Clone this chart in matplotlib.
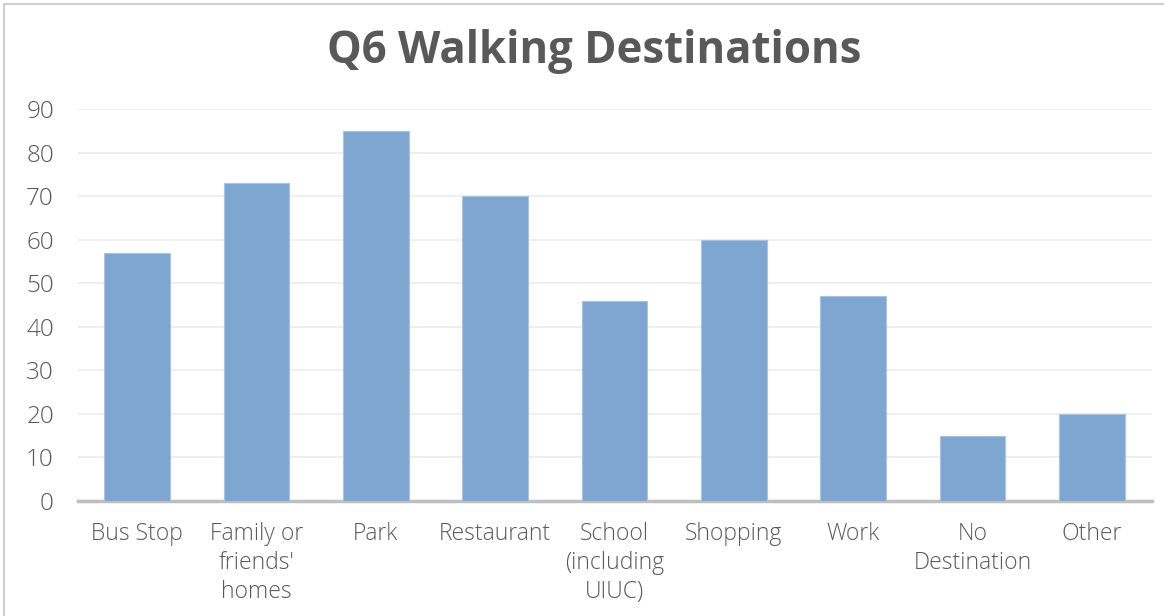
import matplotlib
matplotlib.use("Agg")
import matplotlib.pyplot as plt
from matplotlib.patches import Rectangle

categories = ["Bus Stop", "Family or\nfriends'\nhomes", "Park", "Restaurant",
              "School\n(including\nUIUC)", "Shopping", "Work", "No\nDestination", "Other"]
values = [57, 73, 85, 70, 46, 60, 47, 15, 20]
yticks = [0, 10, 20, 30, 40, 50, 60, 70, 80, 90]
title = "Q6 Walking Destinations"

plt.rcParams['font.family'] = ['Open Sans', 'DejaVu Sans']

W, H = 1164, 616
fig = plt.figure(figsize=(W / 100, H / 100), dpi=100)
fig.patch.set_facecolor("white")

# chart border (partially cropped)
fig.add_artist(Rectangle((4 / W, -0.1), 1.2, (H - 4) / H + 0.1, transform=fig.transFigure,
                         fill=False, edgecolor="#d0d0d0", linewidth=1.5))

left, right = 77.5, 1151.5
top, bottom = 109, 501
ax = fig.add_axes([left / W, 1 - bottom / H, (right - left) / W, (bottom - top) / H])

x = list(range(len(categories)))
ax.bar(x, values, width=0.55, color="#7fa6d1", edgecolor="#a9c3e3", linewidth=0.8, zorder=3)
ax.set_xlim(-0.5, len(categories) - 0.5)
ax.set_ylim(0, 90)
ax.set_yticks(yticks)
ax.set_yticklabels([str(v) for v in yticks])
ax.set_xticks(x)
ax.set_xticklabels(categories, linespacing=1.27)

ax.grid(axis="y", color="#ececec", linewidth=1.2, zorder=0)
ax.set_axisbelow(True)
for s in ["top", "right", "left"]:
    ax.spines[s].set_visible(False)
ax.spines["bottom"].set_color("#bfbfbf")
ax.spines["bottom"].set_linewidth(2.5)
ax.tick_params(axis="x", length=0, labelsize=16.5, labelcolor="#595959", pad=15)
ax.tick_params(axis="y", length=0, labelsize=17.5, labelcolor="#595959", pad=17)
for lbl in ax.get_xticklabels() + ax.get_yticklabels():
    lbl.set_fontweight("light")
for lbl in ax.get_yticklabels():
    lbl.set_horizontalalignment("right")

fig.text(594 / W, 1 - 52 / H, title, ha="center", va="center",
         fontsize=31.5, fontweight="bold", color="#595959")

fig.savefig("out.png", dpi=100, facecolor="white")
